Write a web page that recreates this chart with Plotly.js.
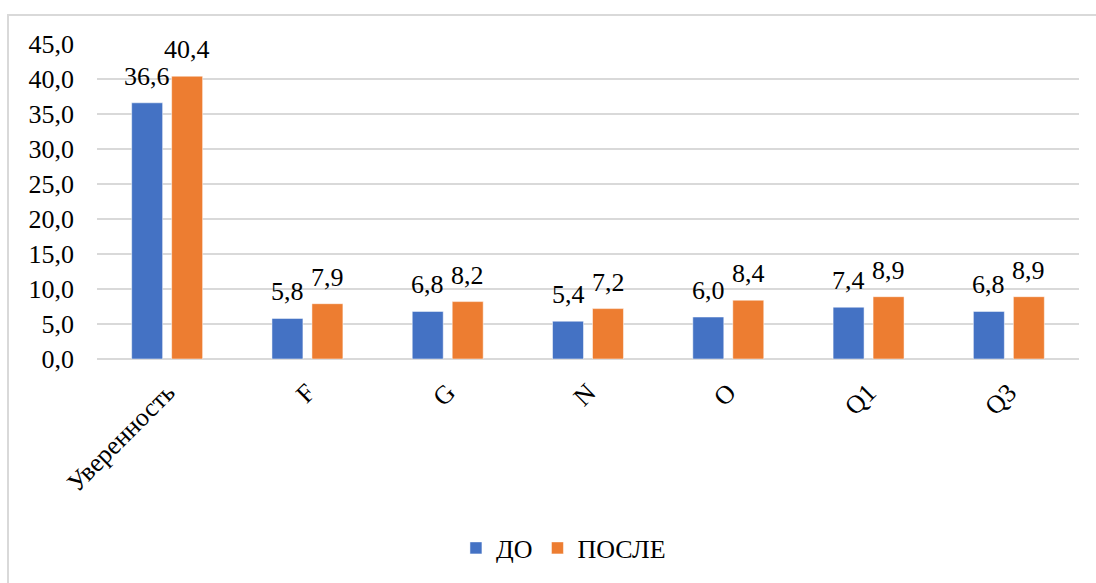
<!DOCTYPE html>
<html>
<head>
<meta charset="utf-8">
<script src="https://cdn.plot.ly/plotly-3.0.1.min.js"></script>
<style>
  html, body { margin: 0; padding: 0; background: #fff; overflow: hidden; }
  #frame { position: absolute; left: 7px; top: 14px; width: 1200px; height: 700px;
           border-left: 2px solid #d9d9d9; border-top: 2px solid #d9d9d9; box-sizing: border-box; }
  #chart { position: absolute; left: 0; top: 0; width: 1096px; height: 583px; }
</style>
</head>
<body>
<div id="frame"></div>
<div id="chart"></div>
<script>
const categories = ["Уверенность", "F", "G", "N", "O", "Q1", "Q3"];
const seriesNames = ["ДО", "ПОСЛЕ"];
const valuesBefore = [36.6, 5.8, 6.8, 5.4, 6.0, 7.4, 6.8];
const valuesAfter = [40.4, 7.9, 8.2, 7.2, 8.4, 8.9, 8.9];
const yTickVals = [0, 5, 10, 15, 20, 25, 30, 35, 40, 45];
const yTickText = ["0,0", "5,0", "10,0", "15,0", "20,0", "25,0", "30,0", "35,0", "40,0", "45,0"];

const colors = ["#4472C4", "#ED7D31"];
const fontFam = "Liberation Serif";
const fsize = 26;
const fmt = v => v.toFixed(1).replace(".", ",");

const traces = [valuesBefore, valuesAfter].map((vals, i) => ({
  type: "bar",
  name: seriesNames[i],
  x: categories,
  y: vals,
  marker: { color: colors[i], line: { color: "rgba(255,255,255,0.5)", width: 1 } },
  hoverinfo: "skip"
}));

const annotations = [];
[valuesBefore, valuesAfter].forEach((vals, i) => {
  vals.forEach((v, j) => {
    annotations.push({
      x: categories[j], y: v, xref: "x", yref: "y",
      text: fmt(v), showarrow: false,
      xanchor: "center", yanchor: "bottom",
      xshift: i === 0 ? -20 : 20, yshift: 10,
      font: { family: fontFam, size: fsize, color: "#000" }
    });
  });
});

const layout = {
  width: 1096, height: 583,
  margin: { l: 97, r: 17, t: 44, b: 220 },
  paper_bgcolor: "rgba(0,0,0,0)",
  plot_bgcolor: "rgba(0,0,0,0)",
  barmode: "group",
  bargap: 0.43,
  bargroupgap: 0.225,
  font: { family: fontFam, size: fsize, color: "#000" },
  xaxis: {
    type: "category",
    tickangle: -45,
    showgrid: false,
    showline: false,
    zeroline: false,
    ticks: "",
    tickfont: { family: fontFam, size: fsize, color: "#000" },
    ticklabelstandoff: 12,
    automargin: false
  },
  yaxis: {
    range: [0, 45],
    tickvals: yTickVals,
    ticktext: yTickText,
    showgrid: true,
    gridcolor: "#d9d9d9",
    gridwidth: 2,
    zeroline: true,
    zerolinecolor: "#d9d9d9",
    zerolinewidth: 2,
    showline: false,
    ticks: "",
    ticklabelstandoff: 22,
    tickfont: { family: fontFam, size: fsize, color: "#000" },
    automargin: false
  },
  showlegend: true,
  legend: {
    orientation: "h",
    x: 0.475, xanchor: "center",
    y: -0.6, yanchor: "middle",
    font: { family: fontFam, size: fsize, color: "#000" },
    itemwidth: 30,
    traceorder: "normal"
  },
  annotations: annotations
};

Plotly.newPlot("chart", traces, layout, { staticPlot: true, displayModeBar: false });
</script>
</body>
</html>
